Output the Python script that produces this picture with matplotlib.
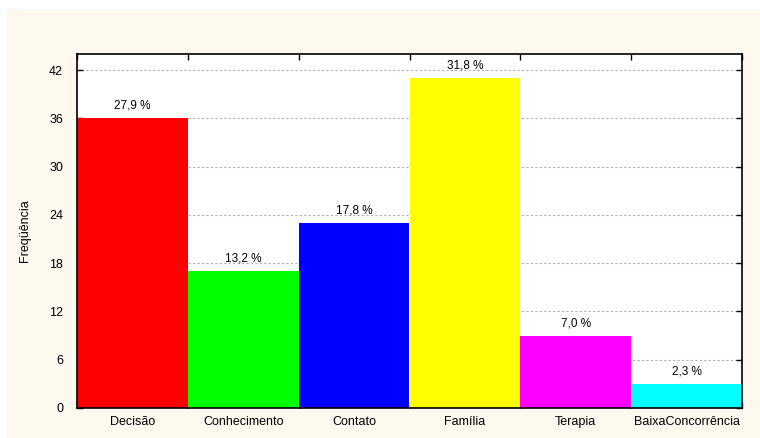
import matplotlib
matplotlib.use("Agg")
import matplotlib.pyplot as plt
import numpy as np

categories = ["Decisão", "Conhecimento", "Contato", "Família", "Terapia", "BaixaConcorrência"]
counts = [36, 17, 23, 41, 9, 3]
pct_labels = ["27,9 %", "13,2 %", "17,8 %", "31,8 %", "7,0 %", "2,3 %"]
bar_colors = ["#ff0000", "#00ff00", "#0000ff", "#ffff00", "#ff00ff", "#00ffff"]
yticks = [0, 6, 12, 18, 24, 30, 36, 42]

plt.rcParams['font.family'] = ['Liberation Sans', 'DejaVu Sans']

fig = plt.figure(figsize=(7.6, 4.38), dpi=100, facecolor="white")
# cream panel behind everything
bg = fig.add_axes([6 / 760, 0, 1 - 6 / 760, 1 - 9 / 438])
bg.set_facecolor("#fdf9ef")
bg.set_xticks([])
bg.set_yticks([])
for s in bg.spines.values():
    s.set_visible(False)

ax = fig.add_axes([77 / 760, 1 - 408 / 438, (742 - 77) / 760, (408 - 54) / 438])
ax.set_facecolor("white")

x = np.arange(len(categories))
ax.bar(x, counts, width=1.0, color=bar_colors, edgecolor="none", zorder=2)

for xi, c, lab in zip(x, counts, pct_labels):
    ax.text(xi, c + 0.8, lab, ha="center", va="bottom", fontsize=8.5, zorder=3)

ax.set_xlim(-0.5, len(categories) - 0.5)
ax.set_ylim(0, 44)
ax.set_yticks(yticks)
ax.set_xticks(x)
ax.set_xticklabels(categories, fontsize=9)
ax.tick_params(axis="x", length=0, pad=6)
ax.set_xticks(np.arange(len(categories) + 1) - 0.5, minor=True)
ax.tick_params(axis="x", which="minor", direction="in", top=True, bottom=True, length=4, width=1)
ax.tick_params(axis="y", direction="in", right=True, left=True, length=4, width=1, labelsize=9, pad=10)

ax.yaxis.grid(True, linestyle=(0, (2, 2)), color="#b0b0b0", linewidth=0.8, zorder=0)
ax.set_axisbelow(True)
for s in ax.spines.values():
    s.set_linewidth(1.2)

ax.set_ylabel("Freqüência", fontsize=9)
ax.yaxis.set_label_coords((31 - 77) / (742 - 77), 0.5)

fig.savefig("out.png", dpi=100, facecolor=fig.get_facecolor())
